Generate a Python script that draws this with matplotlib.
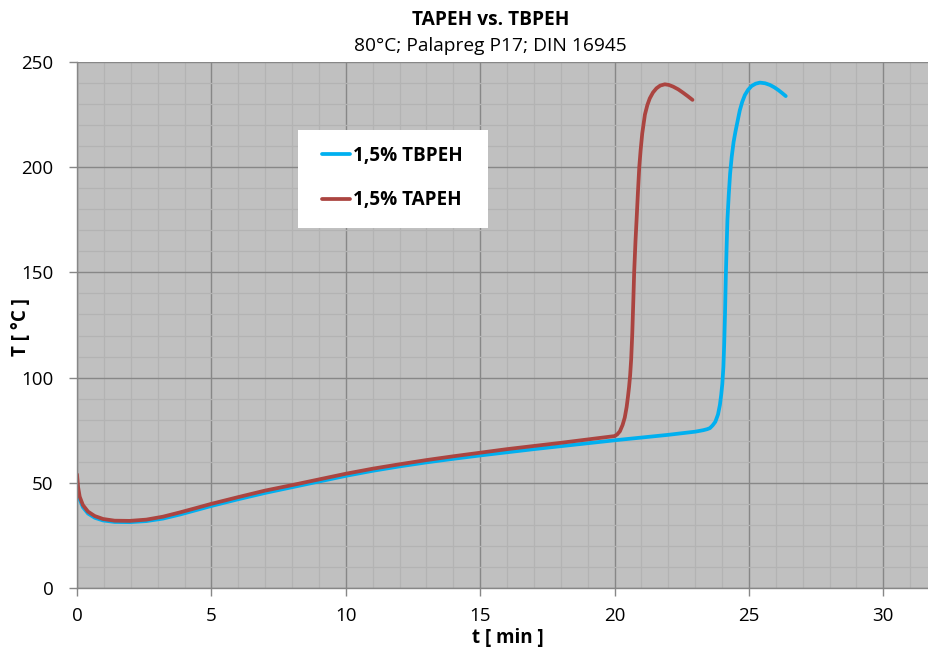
import matplotlib
matplotlib.use("Agg")
import matplotlib.pyplot as plt
from matplotlib.ticker import MultipleLocator
from matplotlib.patches import Rectangle

# ---- data ----
red_t = [0, 0.04, 0.1, 0.22, 0.41, 0.66, 0.97, 1.4, 1.96, 2.58, 3.2, 3.82,
         4.4, 5, 6, 7, 8, 9, 10, 11, 12, 13, 14, 15, 16, 17, 18, 19, 20,
         20.1, 20.2, 20.3, 20.38, 20.45, 20.5, 20.54, 20.58, 20.62, 20.66,
         20.7, 20.73, 20.78, 20.82, 20.87, 20.92, 20.97, 21.03, 21.13, 21.22,
         21.31, 21.43, 21.56, 21.7, 21.87, 22.02, 22.18, 22.37, 22.55,
         22.72, 22.9]
red_T = [54, 48, 43.4, 39.4, 36.3, 34.2, 32.8, 32.0, 31.9, 32.5, 33.9, 35.9,
         37.9, 40.0, 43.2, 46.3, 48.9, 51.6, 54.3, 56.7, 58.8, 60.8, 62.6,
         64.3, 66, 67.5, 69, 70.6, 72.2,
         73, 74.5, 77.5, 81, 86, 91, 95.5, 101, 109, 121,
         137, 150, 165, 175, 188, 200, 208, 216, 225, 229.5,
         232.7, 235.5, 237.5, 238.8, 239.4, 239.1, 238.3, 237, 235.4,
         233.8, 232]

blue_t = [0, 0.04, 0.1, 0.22, 0.41, 0.66, 0.97, 1.4, 1.96, 2.58, 3.2, 3.82,
          4.4, 5, 6, 7, 8, 9, 10, 11, 12, 13, 14, 15, 16, 17, 18, 19, 20,
          21, 22, 23, 23.3, 23.45, 23.55, 23.65, 23.75, 23.85, 23.92, 23.97,
          24.01, 24.05, 24.08, 24.11, 24.14, 24.17, 24.2, 24.25, 24.3, 24.36,
          24.43, 24.5, 24.58, 24.66, 24.75, 24.85, 24.97, 25.1,
          25.25, 25.41, 25.6, 25.78, 25.94, 26.09, 26.23, 26.37]
blue_T = [50, 46, 42.2, 38.4, 35.4, 33.4, 32.1, 31.4, 31.3, 31.8, 33.0, 34.9,
          36.9, 39.0, 42.2, 45.2, 47.9, 50.6, 53.3, 55.7, 57.8, 59.7, 61.4,
          63, 64.5, 66, 67.4, 68.8, 70.2,
          71.5, 72.8, 74.3, 75, 75.5, 76, 77.3, 79, 82.5, 87, 92,
          97, 105, 116, 130, 148, 162, 175, 187, 197, 205,
          212, 217, 222, 227, 231, 234.3, 236.8, 238.6,
          239.7, 240.2, 239.9, 239.1, 238, 236.7, 235.3, 233.8]

label_blue = "1,5% TBPEH"
label_red = "1,5% TAPEH"
title = "TAPEH vs. TBPEH"
subtitle = "80°C; Palapreg P17; DIN 16945"
xlabel = "t [ min ]"
ylabel = "T [ °C ]"

FONT = ["Open Sans", "DejaVu Sans"]
plt.rcParams["font.family"] = FONT

W, H = 929, 648
AX_L, AX_R, AX_T, AX_B = 77, 929, 62, 588
fig = plt.figure(figsize=(W / 100, H / 100), dpi=100)
ax = fig.add_axes([AX_L / W, (H - AX_B) / H, (AX_R - AX_L) / W,
                   (AX_B - AX_T) / H])
ax.set_facecolor("#c0c0c0")

ax.set_xlim(0, 31.7)
ax.set_ylim(0, 250)
ax.xaxis.set_major_locator(MultipleLocator(5))
ax.xaxis.set_minor_locator(MultipleLocator(1))
ax.yaxis.set_major_locator(MultipleLocator(50))
ax.yaxis.set_minor_locator(MultipleLocator(10))

ax.grid(which="minor", color="#b3b3b3", linewidth=0.9)
ax.grid(which="major", color="#878787", linewidth=1.0)
ax.set_axisbelow(True)

for s in ["top", "right"]:
    ax.spines[s].set_visible(False)
for s in ["left", "bottom"]:
    ax.spines[s].set_color("#878787")
    ax.spines[s].set_linewidth(1.0)

ax.tick_params(axis="y", which="major", length=6, width=1, color="#878787",
               labelsize=13.5, labelcolor="#000000", pad=11)
ax.tick_params(axis="x", which="major", length=6, width=1, color="#878787",
               labelsize=13.5, labelcolor="#000000", pad=8)
ax.tick_params(which="minor", length=0)

ax.plot(blue_t, blue_T, color="#00b0f0", lw=2.7, label=label_blue,
        solid_capstyle="round", solid_joinstyle="round")
ax.plot(red_t, red_T, color="#ab4440", lw=2.7, label=label_red,
        solid_capstyle="round", solid_joinstyle="round")


def axfx(px):
    return (px - AX_L) / (AX_R - AX_L)


def axfy(py):
    return (AX_B - py) / (AX_B - AX_T)


# white legend box
ax.add_patch(Rectangle((axfx(298), axfy(228)), axfx(488) - axfx(298),
                       axfy(130) - axfy(228), transform=ax.transAxes,
                       facecolor="white", edgecolor="none", zorder=4))
leg = ax.legend(loc="center left", bbox_to_anchor=(axfx(322), axfy(178)),
                frameon=False,
                prop={"weight": "bold", "size": 13.6, "family": FONT},
                handlelength=1.5, handletextpad=0.15, labelspacing=1.3,
                borderpad=0, borderaxespad=0)
leg.set_zorder(5)

fig.text(490.5 / W, 1 - 20 / H, title, ha="center", va="center",
         fontsize=13.8, fontweight="bold")
fig.text(490 / W, 1 - 46 / H, subtitle, ha="center", va="center",
         fontsize=13.8)

ax.set_xlabel(xlabel, fontsize=13.5, fontweight="bold")
ax.xaxis.set_label_coords(axfx(508), axfy(638))
ax.xaxis.label.set_va("center")
ax.set_ylabel(ylabel, fontsize=13.5, fontweight="bold")
ax.yaxis.set_label_coords(axfx(21.5), axfy(327))
ax.yaxis.label.set_va("center")

fig.savefig("out.png", dpi=100)
